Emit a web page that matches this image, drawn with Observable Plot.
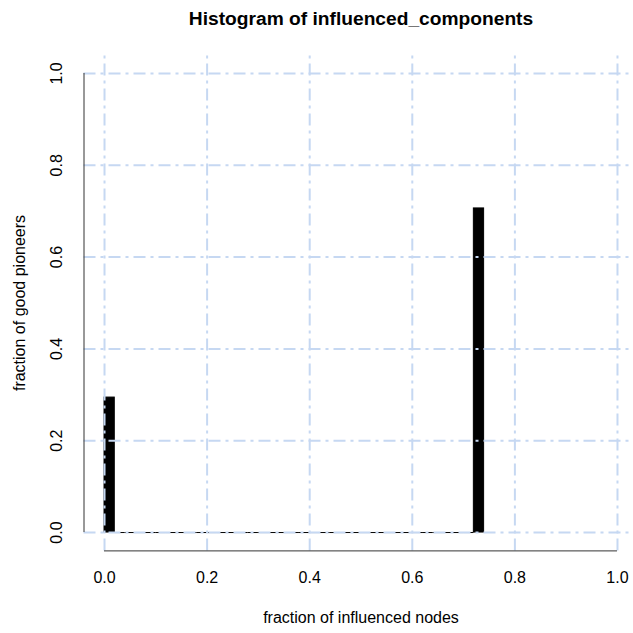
<!DOCTYPE html>
<html>
<head>
<meta charset="utf-8">
<script src="https://cdn.jsdelivr.net/npm/d3@7"></script>
<script src="https://cdn.jsdelivr.net/npm/@observablehq/plot@0.6"></script>
<style>
  html, body { margin: 0; padding: 0; background: #fff; }
  svg { display: block; }
</style>
</head>
<body>
<div id="chart"></div>
<script>
// Data (bins of width 0.02 from 0 to 0.74)
const binEdges = [0.00,0.02,0.04,0.06,0.08,0.10,0.12,0.14,0.16,0.18,0.20,0.22,0.24,0.26,0.28,0.30,0.32,0.34,0.36,0.38,0.40,0.42,0.44,0.46,0.48,0.50,0.52,0.54,0.56,0.58,0.60,0.62,0.64,0.66,0.68,0.70,0.72,0.74];
const binHeights = [0.294,0,0,0,0,0,0,0,0,0,0,0,0,0,0,0,0,0,0,0,0,0,0,0,0,0,0,0,0,0,0,0,0,0,0,0,0.706];
const xTicks = [0, 0.2, 0.4, 0.6, 0.8, 1.0];
const yTicks = [0, 0.2, 0.4, 0.6, 0.8, 1.0];
const xTickLabels = ["0.0", "0.2", "0.4", "0.6", "0.8", "1.0"];
const yTickLabels = ["0.0", "0.2", "0.4", "0.6", "0.8", "1.0"];
const titleText = "Histogram of influenced_components";
const xLabel = "fraction of influenced nodes";
const yLabel = "fraction of good pioneers";

const bins = binHeights.map((h, i) => ({x1: binEdges[i], x2: binEdges[i + 1], h}));
const xDom = [-0.04, 1.04];
const yDom = [-0.04, 1.04];
const gridColor = "#c6d8f2";
const dash = "12,5,3,5";
const font = "'Liberation Sans', Arial, Helvetica, sans-serif";

const chart = Plot.plot({
  width: 633,
  height: 633,
  marginTop: 0, marginBottom: 0, marginLeft: 0, marginRight: 0,
  style: {fontFamily: font, fontSize: "16px", background: "#fff", overflow: "visible"},
  x: {domain: xDom, range: [83.5, 637.5]},
  y: {domain: yDom, range: [550.4, 54.6]},
  marks: [
    // histogram bars (zero-height bins drawn as their outline on the baseline)
    Plot.rect(bins.filter(b => b.h > 0), {x1: "x1", x2: "x2", y1: 0, y2: "h", fill: "black", stroke: "black", strokeWidth: 1}),
    Plot.ruleY(bins.filter(b => b.h === 0), {y: "h", x1: "x1", x2: "x2", stroke: "black", strokeWidth: 1}),
    // grid (drawn on top, like R's grid())
    Plot.ruleX(xTicks, {x: d => d, y1: yDom[0], y2: yDom[1], stroke: gridColor, strokeWidth: 2, strokeDasharray: dash}),
    Plot.ruleY(yTicks, {y: d => d, x1: xDom[0], x2: xDom[1], stroke: gridColor, strokeWidth: 2, strokeDasharray: dash}),
    // axis lines (from first to last tick)
    Plot.ruleX([xDom[0]], {y1: yTicks[0], y2: yTicks[yTicks.length - 1], stroke: "#333", strokeWidth: 1}),
    Plot.ruleY([yDom[0]], {x1: xTicks[0], x2: xTicks[xTicks.length - 1], stroke: "#333", strokeWidth: 1}),
    // ticks
    Plot.axisX(xTicks, {anchor: "bottom", tickSize: 7, tickFormat: () => "", stroke: "#333", label: null}),
    Plot.axisY(yTicks, {anchor: "left", tickSize: 7, tickFormat: () => "", stroke: "#333", label: null}),
    // tick labels
    Plot.text(xTicks, {x: d => d, y: yDom[0], text: (d, i) => xTickLabels[i], dy: 27, lineAnchor: "middle", fontSize: 16, fill: "black"}),
    Plot.text(yTicks, {x: xDom[0], y: d => d, text: (d, i) => yTickLabels[i], dx: -27, rotate: -90, textAnchor: "middle", lineAnchor: "middle", fontSize: 16, fill: "black"}),
    // axis titles
    Plot.text([xLabel], {x: 0.5, y: yDom[0], text: d => d, dy: 67, lineAnchor: "middle", fontSize: 16, fill: "black"}),
    Plot.text([yLabel], {x: xDom[0], y: 0.5, text: d => d, dx: -64, rotate: -90, textAnchor: "middle", lineAnchor: "middle", fontSize: 16, fill: "black"}),
    // main title
    Plot.text([titleText], {x: 0.5, y: yDom[1], text: d => d, dy: -36, lineAnchor: "middle", fontSize: 19.2, fontWeight: "bold", fill: "black"})
  ]
});
document.getElementById("chart").appendChild(chart);
</script>
</body>
</html>
